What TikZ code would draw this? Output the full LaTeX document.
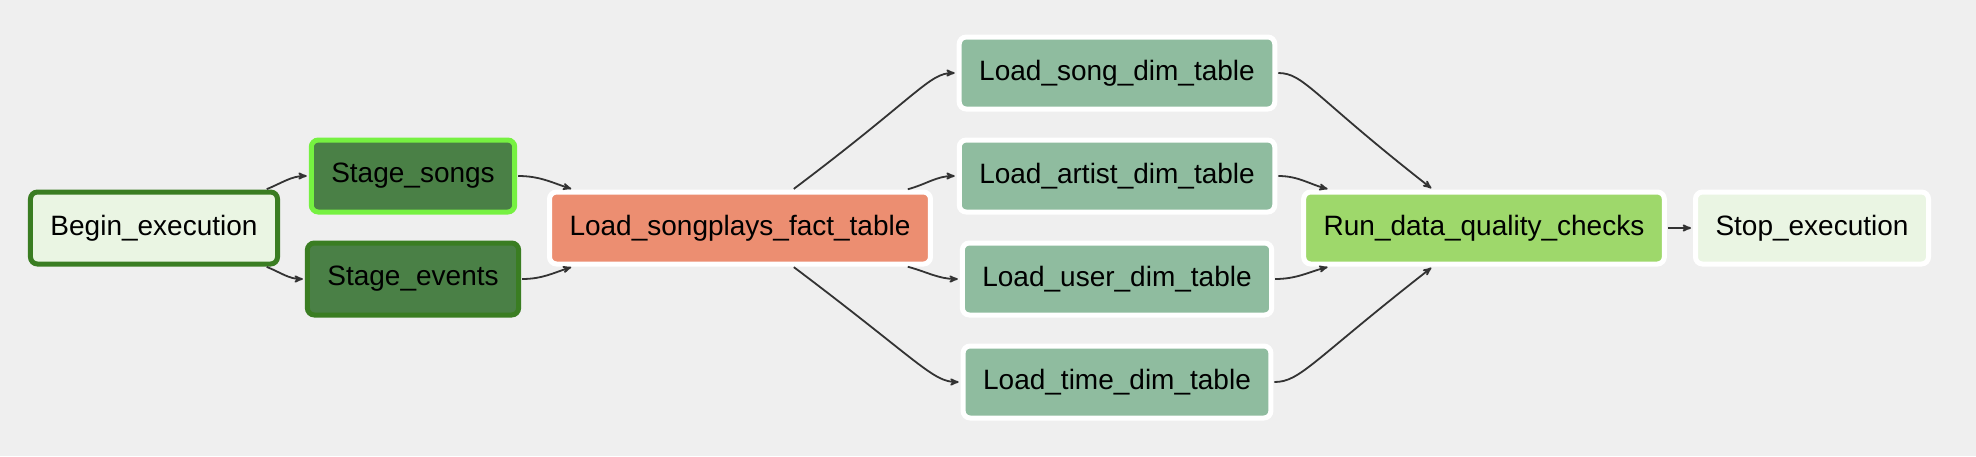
\documentclass[tikz,border=0pt]{standalone}
\usepackage{fontspec}
\setmainfont{Liberation Sans}
\usetikzlibrary{arrows,positioning}

\definecolor{canvas}{HTML}{EFEFEF}
\definecolor{dummyfill}{HTML}{EAF5E3}
\definecolor{stagefill}{HTML}{4A8046}
\definecolor{factfill}{HTML}{EC8E71}
\definecolor{dimfill}{HTML}{8FBC9F}
\definecolor{checkfill}{HTML}{9ED86B}
\definecolor{donegreen}{HTML}{3A7D22}
\definecolor{runninggreen}{HTML}{76F141}
\definecolor{edgegray}{HTML}{333333}

\begin{document}
\begin{tikzpicture}[x=1pt,y=-1pt,->,>=stealth',shorten >=2pt,shorten <=1pt,node distance=103pt,
    edgegray,line width=1.8pt,
    task node/.style={rectangle,rounded corners=7pt,draw=white,line width=5pt,
        minimum height=72pt,inner xsep=20pt,text=black,font=\fontsize{28}{34}\selectfont},
    dummy node/.style={task node,fill=dummyfill},
    stage node/.style={task node,fill=stagefill,draw=donegreen},
    fact node/.style={task node,fill=factfill},
    dim node/.style={task node,fill=dimfill},
    check node/.style={task node,fill=checkfill}]
    \fill[canvas] (0,0) rectangle (1976,456);
    \useasboundingbox (0,0) rectangle (1976,456);

    \node[dummy node,draw=donegreen] (begin) at (154,228) {Begin\_execution};
    \node[stage node,draw=runninggreen] (songs) at (413,176) {Stage\_songs};
    \node[stage node] (events) at (413,279) {Stage\_events};
    \node[fact node] (fact) at (740,228) {Load\_songplays\_fact\_table};
    \node[dim node] (artist) at (1117,176) {Load\_artist\_dim\_table};
    \node[dim node] (song) [above of=artist] {Load\_song\_dim\_table};
    \node[dim node] (user) [below of=artist] {Load\_user\_dim\_table};
    \node[dim node] (time) [below of=user] {Load\_time\_dim\_table};
    \node[check node] (checks) at (1484,228) {Run\_data\_quality\_checks};
    \node[dummy node] (stop) at (1812,228) {Stop\_execution};

    \path
        (begin.19) edge[out=22,in=180] (songs.west)
        (begin.-19) edge[out=-22,in=180] (events.west)
        (songs.east) edge[out=0,in=162] (fact.167)
        (events.east) edge[out=0,in=198] (fact.-167)
        (fact.36) edge[out=37,in=180,out looseness=2,in looseness=0.35] (song.west)
        (fact.13) edge[out=15,in=180] (artist.west)
        (fact.-13) edge[out=-15,in=180] (user.west)
        (fact.-36) edge[out=-37,in=180,out looseness=2,in looseness=0.35] (time.west)
        (song.east) edge[out=0,in=142,out looseness=0.35,in looseness=2] (checks.143)
        (artist.east) edge[out=0,in=165] (checks.166)
        (user.east) edge[out=0,in=195] (checks.-166)
        (time.east) edge[out=0,in=218,out looseness=0.35,in looseness=2] (checks.-143)
        (checks) edge (stop);
\end{tikzpicture}
\end{document}
